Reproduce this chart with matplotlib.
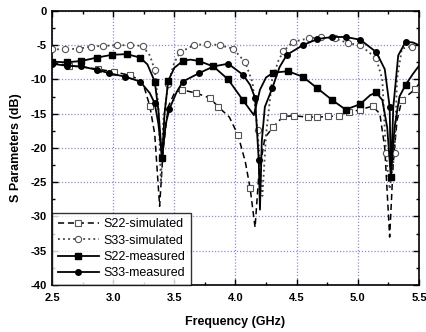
import matplotlib
matplotlib.use("Agg")
import matplotlib.pyplot as plt
from matplotlib.ticker import MultipleLocator

# ---- data ----
s22_sim_f = [2.50, 2.64, 2.76, 2.88, 3.01, 3.14, 3.24, 3.30, 3.34, 3.38, 3.41, 3.45, 3.50, 3.56,
             3.68, 3.79, 3.86, 3.95, 4.02, 4.08, 4.12, 4.16, 4.19, 4.24, 4.31, 4.39, 4.48, 4.59,
             4.67, 4.76, 4.85, 4.93, 5.02, 5.12, 5.18, 5.22, 5.26, 5.29, 5.32, 5.36, 5.47, 5.50]
s22_sim_db = [-7.5, -8.0, -8.2, -8.5, -8.9, -9.4, -10.3, -13.9, -18.0, -28.5, -20.0, -14.0, -12.0, -11.5,
              -12.0, -12.7, -14.0, -15.5, -18.1, -22.0, -25.9, -31.6, -24.0, -18.5, -16.9, -15.4, -15.3, -15.5,
              -15.5, -15.4, -15.3, -14.8, -14.4, -13.9, -15.0, -20.0, -33.0, -22.0, -16.0, -13.0, -11.4, -10.6]
s22_sim_marks = [1, 3, 4, 5, 7, 13, 14, 15, 16, 18, 20, 24, 25, 26, 27, 28, 29, 30, 31, 32, 33, 39, 40]

s33_sim_f = [2.50, 2.61, 2.72, 2.82, 2.92, 3.03, 3.14, 3.24, 3.30, 3.34, 3.37, 3.39, 3.41, 3.45,
             3.50, 3.55, 3.66, 3.77, 3.87, 3.98, 4.08, 4.14, 4.18, 4.22, 4.25, 4.30, 4.35, 4.39,
             4.47, 4.60, 4.70, 4.81, 4.92, 5.02, 5.15, 5.20, 5.23, 5.26, 5.30, 5.32, 5.36, 5.44, 5.50]
s33_sim_db = [-5.6, -5.6, -5.5, -5.2, -5.1, -5.0, -5.0, -5.1, -6.5, -8.6, -14.0, -25.0, -16.0, -10.6,
              -7.5, -6.0, -5.0, -4.8, -5.0, -5.5, -7.5, -10.5, -17.4, -27.0, -18.0, -10.0, -7.3, -5.9,
              -4.5, -4.0, -3.8, -4.0, -4.7, -5.0, -6.9, -10.0, -20.8, -26.0, -20.8, -10.0, -5.5, -5.2, -5.0]
s33_sim_marks = [0, 1, 2, 3, 4, 5, 6, 7, 9, 13, 15, 16, 17, 18, 19, 20, 22, 27, 28, 29, 30, 31, 32,
                 33, 34, 36, 38, 41]

s22_meas_f = [2.50, 2.62, 2.74, 2.87, 2.99, 3.11, 3.22, 3.28, 3.34, 3.37, 3.40, 3.42, 3.45, 3.50,
              3.57, 3.63, 3.70, 3.82, 3.94, 4.06, 4.15, 4.20, 4.25, 4.31, 4.43, 4.55, 4.67, 4.79,
              4.90, 5.02, 5.10, 5.15, 5.20, 5.24, 5.27, 5.30, 5.34, 5.39, 5.45, 5.50]
s22_meas_db = [-7.4, -7.5, -7.3, -6.8, -6.4, -6.3, -6.8, -7.8, -10.3, -14.5, -21.5, -15.0, -10.2, -8.3,
               -7.3, -7.1, -7.3, -8.1, -10.0, -13.0, -15.2, -11.5, -9.7, -9.0, -8.8, -9.6, -11.3, -13.0,
               -14.4, -13.6, -12.3, -11.9, -13.0, -17.0, -24.2, -17.0, -12.5, -10.8, -9.2, -8.0]
s22_meas_marks = [0, 1, 2, 3, 4, 5, 6, 8, 10, 12, 14, 16, 17, 18, 19, 23, 24, 25, 26, 27, 28, 29, 31,
                  34, 37]

s33_meas_f = [2.50, 2.62, 2.74, 2.87, 2.97, 3.10, 3.22, 3.30, 3.34, 3.37, 3.40, 3.43, 3.46, 3.52,
              3.57, 3.70, 3.82, 3.94, 4.06, 4.12, 4.16, 4.19, 4.20, 4.215, 4.24, 4.30, 4.36, 4.42,
              4.55, 4.67, 4.79, 4.90, 5.02, 5.15, 5.22, 5.26, 5.27, 5.29, 5.33, 5.39, 5.45, 5.50]
s33_meas_db = [-7.7, -8.0, -8.1, -8.6, -9.1, -9.6, -10.3, -12.0, -13.5, -16.5, -21.5, -16.5, -14.3, -11.8,
               -10.3, -9.1, -8.1, -7.7, -9.3, -10.8, -12.7, -21.8, -29.0, -19.0, -14.0, -11.3, -8.2, -6.4,
               -5.0, -4.1, -3.8, -3.8, -4.2, -6.0, -8.5, -14.0, -24.2, -14.0, -6.5, -4.5, -4.6, -5.0]
s33_meas_marks = [0, 1, 2, 3, 4, 5, 6, 8, 10, 12, 14, 15, 16, 17, 18, 20, 21, 25, 27, 28, 29, 30, 31,
                  32, 33, 35, 39]

labels = ["S22-simulated", "S33-simulated", "S22-measured", "S33-measured"]
x_ticks = [2.5, 3.0, 3.5, 4.0, 4.5, 5.0, 5.5]
y_ticks = [0, -5, -10, -15, -20, -25, -30, -35, -40]

plt.rcParams['font.family'] = ['Liberation Sans', 'DejaVu Sans']

fig = plt.figure(figsize=(4.26, 3.32), dpi=100)
ax = fig.add_axes([0.122, 0.1416, 0.8616, 0.8254])

ax.plot(s22_sim_f, s22_sim_db, linestyle=(0, (4, 2.5)), color='black', lw=1.1,
        marker='s', markevery=s22_sim_marks, ms=4, mfc='white', mec='#555555', mew=0.8,
        label=labels[0], zorder=3)
ax.plot(s33_sim_f, s33_sim_db, linestyle=(0, (1, 1.8)), color='#444444', lw=1.3,
        marker='o', markevery=s33_sim_marks, ms=4.5, mfc='white', mec='#555555', mew=0.8,
        label=labels[1], zorder=3)
ax.plot(s22_meas_f, s22_meas_db, linestyle='-', color='black', lw=1.3,
        marker='s', markevery=s22_meas_marks, ms=4, mfc='black', mec='black',
        label=labels[2], zorder=4)
ax.plot(s33_meas_f, s33_meas_db, linestyle='-', color='black', lw=1.3,
        marker='o', markevery=s33_meas_marks, ms=4, mfc='black', mec='black',
        label=labels[3], zorder=4)

ax.set_xlim(2.5, 5.5)
ax.set_ylim(-40, 0)
ax.set_xticks(x_ticks)
ax.set_yticks(y_ticks)
ax.set_xticklabels([f"{v:.1f}" for v in x_ticks], fontweight='bold', fontsize=8)
ax.set_yticklabels([f"{v:d}" for v in y_ticks], fontweight='bold', fontsize=8)
ax.xaxis.set_minor_locator(MultipleLocator(0.25))
ax.yaxis.set_minor_locator(MultipleLocator(2.5))
ax.tick_params(which='both', direction='in', top=True, right=True, width=1, colors='black')
ax.tick_params(which='major', length=4)
ax.tick_params(axis='x', which='major', pad=6)
ax.tick_params(axis='y', which='major', pad=4)
ax.tick_params(which='minor', length=2)
ax.grid(True, which='major', linestyle=(0, (1, 1.5)), color='#8f8fd0', lw=0.9)
for s in ax.spines.values():
    s.set_linewidth(1.2)

ax.set_xlabel("Frequency (GHz)", fontweight='bold', fontsize=9, labelpad=9)
ax.set_ylabel("S Parameters (dB)", fontweight='bold', fontsize=9, labelpad=6)

leg = ax.legend(loc='lower left', borderaxespad=0, fontsize=9, frameon=True, fancybox=False,
                edgecolor='black', handlelength=3.3, handletextpad=0.4, labelspacing=0.35,
                borderpad=0.45)
leg.get_frame().set_linewidth(1.0)

fig.savefig("out.png", dpi=100)
